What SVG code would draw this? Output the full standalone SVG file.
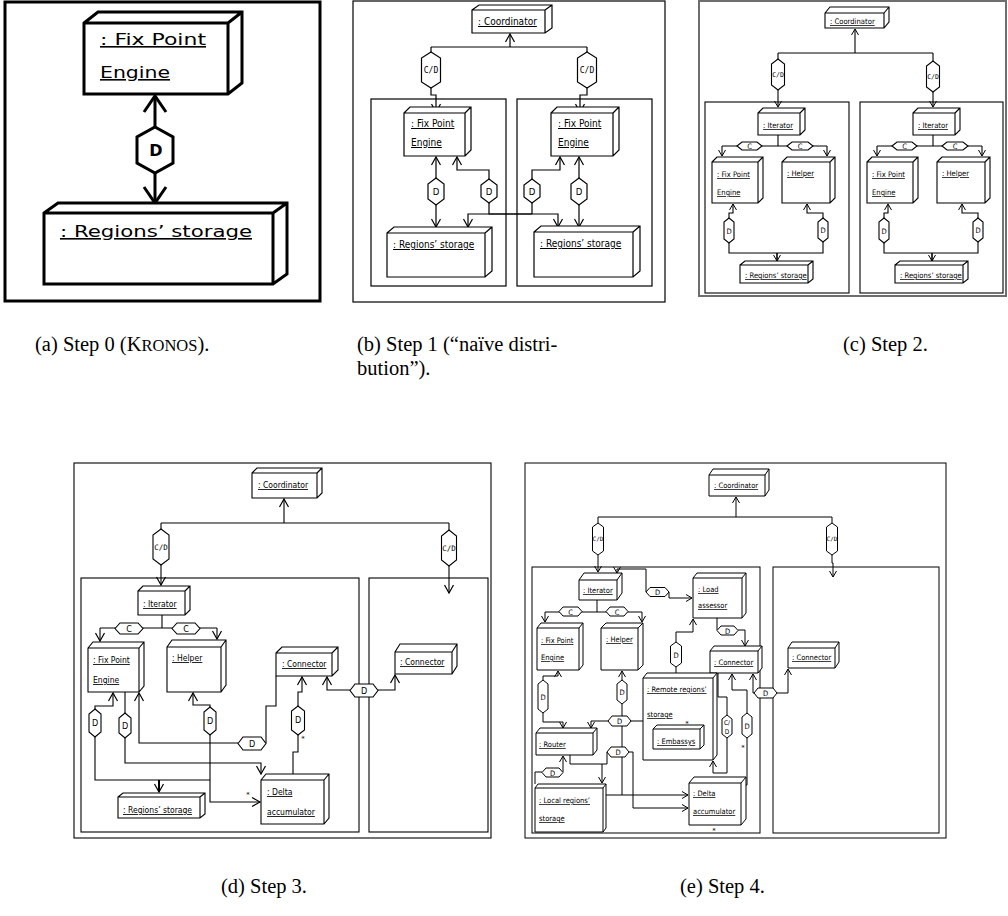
<svg xmlns="http://www.w3.org/2000/svg" width="1008" height="916" viewBox="0 0 1008 916">
<style>
.ln{fill:none;stroke:#000}
.bx{fill:#fff;stroke:#000}
.hx{fill:#fff;stroke:#000}
.fr{fill:none;stroke:#000}
.lb{font-family:"DejaVu Sans Condensed","DejaVu Sans",sans-serif;font-stretch:condensed;text-decoration:underline;fill:#000}
.la{font-family:"DejaVu Sans",sans-serif;font-size:16px;text-decoration:underline;fill:#000}
.hl{font-family:"DejaVu Sans Condensed","DejaVu Sans",sans-serif;font-stretch:condensed;text-anchor:middle;fill:#000}
.mo{font-family:"DejaVu Sans Mono",monospace;text-anchor:middle;fill:#000}
.st{font-family:"DejaVu Sans",sans-serif;font-size:7px;fill:#000;text-anchor:middle}
.cap{font-family:"Liberation Serif",serif;font-size:20.5px;fill:#000}
.pb .ln,.pb .bx,.pb .hx,.pb .fr{stroke-width:1.2}
.pc .ln,.pc .bx,.pc .hx,.pc .fr{stroke-width:1.1}
.pd .ln,.pd .bx,.pd .hx,.pd .fr{stroke-width:1.1}
.pe .ln,.pe .bx,.pe .hx,.pe .fr{stroke-width:1}
.pb .lb{font-size:10px}.pc .lb{font-size:7.6px}.pd .lb{font-size:8.5px}.pe .lb{font-size:7.5px}
.pc .gray{stroke:#6e6e6e;stroke-width:2}
</style>
<defs>
<marker id="mA" markerUnits="userSpaceOnUse" viewBox="-20 -12 22 24" markerWidth="22" markerHeight="24" refX="0" refY="0" orient="auto" overflow="visible"><path d="M-16,-11 L0,0 L-16,11" fill="none" stroke="#000" stroke-width="3"/></marker>
<marker id="mS" markerUnits="userSpaceOnUse" viewBox="-10 -6 12 12" markerWidth="12" markerHeight="12" refX="0" refY="0" orient="auto" overflow="visible"><path d="M-8,-4.5 L0,0 L-8,4.5" fill="none" stroke="#000" stroke-width="1.2"/></marker>
<marker id="mT" markerUnits="userSpaceOnUse" viewBox="-8 -5 10 10" markerWidth="10" markerHeight="10" refX="0" refY="0" orient="auto" overflow="visible"><path d="M-6,-3.5 L0,0 L-6,3.5" fill="none" stroke="#000" stroke-width="1"/></marker>
</defs>
<rect width="1008" height="916" fill="#fff"/>

<!-- ===== Panel (a) ===== -->
<g id="panel-a">
<rect class="fr" x="5" y="2" width="315" height="299" stroke-width="3"/>
<g id="a-connectors">
<path class="ln" stroke-width="3" d="M155,127 V96" marker-end="url(#mA)"/>
<path class="ln" stroke-width="3" d="M155,173 V203" marker-end="url(#mA)"/>
<path class="hx" stroke-width="3" d="M155,127 l18,10 V163 l-18,10 l-18,-10 V137 z"/>
<text x="156" y="156" font-family="DejaVu Sans,sans-serif" font-size="16" font-weight="bold" text-anchor="middle">D</text>
</g>
<g id="a-fixpoint">
<path class="bx" stroke-width="3" d="M84,23 l14,-11 h144 v71 l-14,11 h-144 z h144 v71 m0,-71 l14,-11"/>
<text class="la" x="100" y="45" textLength="106" lengthAdjust="spacingAndGlyphs">: Fix Point</text>
<text class="la" x="100" y="78" textLength="70" lengthAdjust="spacingAndGlyphs">Engine</text>
</g>
<g id="a-regions">
<path class="bx" stroke-width="3" d="M44,213 l14,-10 h229 v71 l-14,10 h-229 z h229 v71 m0,-71 l14,-10"/>
<text class="la" x="60" y="237" textLength="192" lengthAdjust="spacingAndGlyphs">: Regions’ storage</text>
</g>
</g>

<!-- ===== Panel (b) ===== -->
<g id="panel-b" class="pb">
<rect class="fr" x="353" y="1" width="312" height="301"/>
<rect class="fr" x="371" y="99" width="135" height="187"/>
<rect class="fr" x="517" y="99" width="135" height="187"/>
<g id="b-connectors">
<path class="ln" d="M510,47 V34" marker-end="url(#mS)"/>
<path class="ln" d="M431,47 H587"/>
<path class="ln" d="M431,47 V52 M587,47 V52"/>
<path class="ln" d="M431,88 V95 H436 V112" marker-end="url(#mS)"/>
<path class="ln" d="M587,88 V95 H580 V112" marker-end="url(#mS)"/>
<path class="ln" d="M436,178 V157" marker-end="url(#mS)"/>
<path class="ln" d="M436,205 V227" marker-end="url(#mS)"/>
<path class="ln" d="M489,179 V170 H457 V157" marker-end="url(#mS)"/>
<path class="ln" d="M489,203 V214 H558 V227" marker-end="url(#mS)"/>
<path class="ln" d="M489,214 H468 V227" marker-end="url(#mS)"/>
<path class="ln" d="M532,179 V170 H560 V157" marker-end="url(#mS)"/>
<path class="ln" d="M532,203 V214"/>
<path class="ln" stroke-width="3" d="M489,214 H532"/>
<path class="ln" d="M579,178 V157" marker-end="url(#mS)"/>
<path class="ln" d="M579,205 V227" marker-end="url(#mS)"/>
<path class="hx" d="M431,52 l9.5,6 V82 l-9.5,6 l-9.5,-6 V58 z"/>
<text class="mo" x="431" y="73" font-size="8">C/D</text>
<path class="hx" d="M587,52 l9.5,6 V82 l-9.5,6 l-9.5,-6 V58 z"/>
<text class="mo" x="587" y="73" font-size="8">C/D</text>
<path class="hx" d="M436,178 l8,6 V199 l-8,6 l-8,-6 V184 z"/>
<text class="hl" x="436" y="195" font-size="9.5">D</text>
<path class="hx" d="M489,179 l8,6 V197 l-8,6 l-8,-6 V185 z"/>
<text class="hl" x="489" y="195" font-size="9.5">D</text>
<path class="hx" d="M532,179 l8,6 V197 l-8,6 l-8,-6 V185 z"/>
<text class="hl" x="532" y="195" font-size="9.5">D</text>
<path class="hx" d="M579,178 l8,6 V199 l-8,6 l-8,-6 V184 z"/>
<text class="hl" x="579" y="195" font-size="9.5">D</text>
</g>
<g id="b-coordinator">
<path class="bx" d="M472,10 l7,-5 h73 v23 l-7,5 h-73 z h73 v23 m0,-23 l7,-5"/>
<text class="lb" x="478" y="25">: Coordinator</text>
</g>
<g id="b-fix-left">
<path class="bx" d="M404,113 l6,-6 h61 v43 l-6,6 h-61 z h61 v43 m0,-43 l6,-6"/>
<text class="lb" x="411" y="127">: Fix Point</text>
<text class="lb" x="411" y="146">Engine</text>
</g>
<g id="b-fix-right">
<path class="bx" d="M551,113 l6,-6 h62 v43 l-6,6 h-62 z h62 v43 m0,-43 l6,-6"/>
<text class="lb" x="558" y="127">: Fix Point</text>
<text class="lb" x="558" y="146">Engine</text>
</g>
<g id="b-regions-left">
<path class="bx" d="M387,233 l7,-6 h98 v44 l-7,6 h-98 z h98 v44 m0,-44 l7,-6"/>
<text class="lb" x="393" y="248">: Regions’ storage</text>
</g>
<g id="b-regions-right">
<path class="bx" d="M534,232 l7,-6 h99 v45 l-7,6 h-99 z h99 v45 m0,-45 l7,-6"/>
<text class="lb" x="540" y="247">: Regions’ storage</text>
</g>
</g>

<!-- ===== Panel (c) ===== -->
<g id="panel-c" class="pc">
<rect class="fr gray" x="699" y="1" width="307" height="295"/>
<rect class="fr" x="705" y="102" width="144" height="191"/>
<rect class="fr" x="860" y="102" width="143" height="191"/>
<g id="c-connectors-top">
<path class="ln" d="M855,53 V29" marker-end="url(#mT)"/>
<path class="ln" d="M778,53 H933 M778,53 V59 M933,53 V61"/>
<path class="ln" d="M778,90 V107" marker-end="url(#mT)"/>
<path class="ln" d="M933,92 V107" marker-end="url(#mT)"/>
<path class="hx" d="M778,59 l6.5,5 V85 l-6.5,5 l-6.5,-5 V64 z"/>
<text class="mo" x="778" y="77" font-size="6.5">C/D</text>
<path class="hx" d="M933,61 l6.5,5 V87 l-6.5,5 l-6.5,-5 V66 z"/>
<text class="mo" x="933" y="79" font-size="6.5">C/D</text>
</g>
<g id="c-left">
<g id="c-connectors-left">
<path class="ln" d="M778,135 V146 M722,146 H827"/>
<path class="ln" d="M722,146 V156" marker-end="url(#mT)"/>
<path class="ln" d="M827,146 V156" marker-end="url(#mT)"/>
<path class="ln" d="M729,218 V213 H733 V204" marker-end="url(#mT)"/>
<path class="ln" d="M729,243 V253 H823 V242"/>
<path class="ln" d="M823,218 V213 H807 V204" marker-end="url(#mT)"/>
<path class="ln" style="stroke-width:1.6" d="M777,253 V261" marker-end="url(#mT)"/>
<path class="hx" d="M737,146 l5,-4 H757 l5,4 l-5,4 H742 z"/>
<text class="hl" x="749.5" y="149" font-size="7.5">C</text>
<path class="hx" d="M787,146 l5,-4 H808 l5,4 l-5,4 H792 z"/>
<text class="hl" x="800" y="149" font-size="7.5">C</text>
<path class="hx" d="M729,218 l5,4 V239 l-5,4 l-5,-4 V222 z"/>
<text class="hl" x="729" y="233.5" font-size="7.5">D</text>
<path class="hx" d="M823,218 l5,4 V238 l-5,4 l-5,-4 V222 z"/>
<text class="hl" x="823" y="233" font-size="7.5">D</text>
</g>
<g id="c-iterator-left">
<path class="bx" d="M758,113 l5,-5 h42 v22 l-5,5 h-42 z h42 v22 m0,-22 l5,-5"/>
<text class="lb" x="763" y="128">: Iterator</text>
</g>
<g id="c-fix-left">
<path class="bx" d="M712,162 l5,-5 h46 v41 l-5,5 h-46 z h46 v41 m0,-41 l5,-5"/>
<text class="lb" x="717" y="177">: Fix Point</text>
<text class="lb" x="717" y="195">Engine</text>
</g>
<g id="c-helper-left">
<path class="bx" d="M782,162 l5,-5 h48 v41 l-5,5 h-48 z h48 v41 m0,-41 l5,-5"/>
<text class="lb" x="787" y="176">: Helper</text>
</g>
<g id="c-regions-left">
<path class="bx" d="M740,265 l5,-4 h68 v18 l-5,4 h-68 z h68 v18 m0,-18 l5,-4"/>
<text class="lb" x="745" y="278">: Regions’ storage</text>
</g>
</g>
<g id="c-right" transform="translate(155,0)">
<g id="c-connectors-right">
<path class="ln" d="M778,135 V146 M722,146 H827"/>
<path class="ln" d="M722,146 V156" marker-end="url(#mT)"/>
<path class="ln" d="M827,146 V156" marker-end="url(#mT)"/>
<path class="ln" d="M729,218 V213 H733 V204" marker-end="url(#mT)"/>
<path class="ln" d="M729,243 V253 H823 V242"/>
<path class="ln" d="M823,218 V213 H807 V204" marker-end="url(#mT)"/>
<path class="ln" style="stroke-width:1.6" d="M777,253 V261" marker-end="url(#mT)"/>
<path class="hx" d="M737,146 l5,-4 H757 l5,4 l-5,4 H742 z"/>
<text class="hl" x="749.5" y="149" font-size="7.5">C</text>
<path class="hx" d="M787,146 l5,-4 H808 l5,4 l-5,4 H792 z"/>
<text class="hl" x="800" y="149" font-size="7.5">C</text>
<path class="hx" d="M729,218 l5,4 V239 l-5,4 l-5,-4 V222 z"/>
<text class="hl" x="729" y="233.5" font-size="7.5">D</text>
<path class="hx" d="M823,218 l5,4 V238 l-5,4 l-5,-4 V222 z"/>
<text class="hl" x="823" y="233" font-size="7.5">D</text>
</g>
<g id="c-iterator-right">
<path class="bx" d="M758,113 l5,-5 h42 v22 l-5,5 h-42 z h42 v22 m0,-22 l5,-5"/>
<text class="lb" x="763" y="128">: Iterator</text>
</g>
<g id="c-fix-right">
<path class="bx" d="M712,162 l5,-5 h46 v41 l-5,5 h-46 z h46 v41 m0,-41 l5,-5"/>
<text class="lb" x="717" y="177">: Fix Point</text>
<text class="lb" x="717" y="195">Engine</text>
</g>
<g id="c-helper-right">
<path class="bx" d="M782,162 l5,-5 h48 v41 l-5,5 h-48 z h48 v41 m0,-41 l5,-5"/>
<text class="lb" x="787" y="176">: Helper</text>
</g>
<g id="c-regions-right">
<path class="bx" d="M740,265 l5,-4 h68 v18 l-5,4 h-68 z h68 v18 m0,-18 l5,-4"/>
<text class="lb" x="745" y="278">: Regions’ storage</text>
</g>
</g>
<g id="c-coordinator">
<path class="bx" d="M825,13 l5,-6 h59 v15 l-5,6 h-59 z h59 v15 m0,-15 l5,-6"/>
<text class="lb" x="830" y="24">: Coordinator</text>
</g>
</g>

<!-- ===== Panel (d) ===== -->
<g id="panel-d" class="pd">
<rect class="fr" x="74" y="463" width="417" height="375"/>
<rect class="fr" x="81" y="578" width="278" height="254"/>
<rect class="fr" x="369" y="578" width="119" height="254"/>
<g id="d-connectors">
<path class="ln" d="M284,523 V499" marker-end="url(#mS)"/>
<path class="ln" d="M161,523 H449 M161,523 V529 M449,523 V530"/>
<path class="ln" d="M161,565 V585" marker-end="url(#mS)"/>
<path class="ln" d="M449,566 V593" marker-end="url(#mS)"/>
<path class="ln" d="M162,615 V628 M100,628 H217"/>
<path class="ln" d="M100,628 V641" marker-end="url(#mS)"/>
<path class="ln" d="M217,628 V639" marker-end="url(#mS)"/>
<path class="ln" d="M95,709 V706 H113 V693" marker-end="url(#mS)"/>
<path class="ln" d="M95,737 V780 H210"/>
<path class="ln" style="stroke-width:2" d="M159,780 V792" marker-end="url(#mS)"/>
<path class="ln" d="M125,692 V713 M125,738 V763 H261 V774" marker-end="url(#mS)"/>
<path class="ln" d="M238,743 H139 V693" marker-end="url(#mS)"/>
<path class="ln" d="M266,743 V706 H276 V676"/>
<path class="ln" d="M210,707 V705 H193 V693" marker-end="url(#mS)"/>
<path class="ln" d="M210,735 V802 H260" marker-end="url(#mS)"/>
<path class="ln" d="M293,774 V752 H298 V735"/>
<path class="ln" d="M298,706 V692 H302 V677" marker-end="url(#mS)"/>
<path class="ln" d="M350,690 H327 V677" marker-end="url(#mS)"/>
<path class="ln" d="M378,690 H395 V675" marker-end="url(#mS)"/>
<path class="hx" d="M161,529 l8,6 V559 l-8,6 l-8,-6 V535 z"/>
<text class="mo" x="161" y="550" font-size="7.5">C/D</text>
<path class="hx" d="M449,530 l7.5,6 V560 l-7.5,6 l-7.5,-6 V536 z"/>
<text class="mo" x="449" y="551" font-size="7.5">C/D</text>
<path class="hx" d="M115,628.5 l5,-5.5 H138 l5,5.5 l-5,5.5 H120 z"/>
<text class="hl" x="129" y="632" font-size="9">C</text>
<path class="hx" d="M172,628.5 l5,-5.5 H195 l5,5.5 l-5,5.5 H177 z"/>
<text class="hl" x="186" y="632" font-size="9">C</text>
<path class="hx" d="M95,709 l6,5 V732 l-6,5 l-6,-5 V714 z"/>
<text class="hl" x="95" y="726" font-size="9">D</text>
<path class="hx" d="M125,713 l6,5 V733 l-6,5 l-6,-5 V718 z"/>
<text class="hl" x="125" y="729" font-size="9">D</text>
<path class="hx" d="M238,743.5 l5,-6.5 H261 l5,6.5 l-5,6.5 H243 z"/>
<text class="hl" x="252" y="747" font-size="9">D</text>
<path class="hx" d="M210,707 l6,5 V730 l-6,5 l-6,-5 V712 z"/>
<text class="hl" x="210" y="724" font-size="9">D</text>
<path class="hx" d="M298,706 l6.5,5 V730 l-6.5,5 l-6.5,-5 V711 z"/>
<text class="hl" x="298" y="723" font-size="9">D</text>
<path class="hx" d="M350,690.5 l5,-6.5 H373 l5,6.5 l-5,6.5 H355 z"/>
<text class="hl" x="364" y="694" font-size="9">D</text>
<text class="st" x="248" y="797">*</text>
<text class="st" x="303" y="741">*</text>
</g>
<g id="d-coordinator">
<path class="bx" d="M252,473 l5,-5 h65 v25 l-5,5 h-65 z h65 v25 m0,-25 l5,-5"/>
<text class="lb" x="258" y="488">: Coordinator</text>
</g>
<g id="d-iterator">
<path class="bx" d="M138,591 l5,-5 h47 v24 l-5,5 h-47 z h47 v24 m0,-24 l5,-5"/>
<text class="lb" x="143" y="607">: Iterator</text>
</g>
<g id="d-fix">
<path class="bx" d="M88,648 l5,-6 h51 v44 l-5,6 h-51 z h51 v44 m0,-44 l5,-6"/>
<text class="lb" x="93" y="663">: Fix Point</text>
<text class="lb" x="93" y="683">Engine</text>
</g>
<g id="d-helper">
<path class="bx" d="M167,647 l5,-7 h54 v45 l-5,7 h-54 z h54 v45 m0,-45 l5,-7"/>
<text class="lb" x="172" y="661">: Helper</text>
</g>
<g id="d-connector-left">
<path class="bx" d="M276,653 l6,-6 h56 v23 l-6,6 h-56 z h56 v23 m0,-23 l6,-6"/>
<text class="lb" x="282" y="667">: Connector</text>
</g>
<g id="d-connector-right">
<path class="bx" d="M395,652 l5,-8 h57 v22 l-5,8 h-57 z h57 v22 m0,-22 l5,-8"/>
<text class="lb" x="400" y="665">: Connector</text>
</g>
<g id="d-regions">
<path class="bx" d="M118,797 l5,-4 h82 v21 l-5,4 h-82 z h82 v21 m0,-21 l5,-4"/>
<text class="lb" x="123" y="813">: Regions’ storage</text>
</g>
<g id="d-delta">
<path class="bx" d="M261,780 l5,-6 h63 v44 l-5,6 h-63 z h63 v44 m0,-44 l5,-6"/>
<text class="lb" x="267" y="795">: Delta</text>
<text class="lb" x="267" y="815">accumulator</text>
</g>
</g>

<!-- ===== Panel (e) ===== -->
<g id="panel-e" class="pe">
<rect class="fr" x="525" y="463" width="421" height="375"/>
<rect class="fr" x="532" y="567" width="228" height="266"/>
<rect class="fr" x="773" y="567" width="166" height="266"/>
<g id="e-connectors">
<path class="ln" d="M736,517 V497" marker-end="url(#mT)"/>
<path class="ln" d="M598,517 H832 M598,517 V523 M832,517 V523"/>
<path class="ln" d="M598,555 V572" marker-end="url(#mT)"/>
<path class="ln" d="M832,555 V563 H833 V577" marker-end="url(#mT)"/>
<path class="ln" d="M597,600 V612 M545,612 H642"/>
<path class="ln" d="M545,612 V622" marker-end="url(#mT)"/>
<path class="ln" d="M642,612 V622" marker-end="url(#mT)"/>
<path class="ln" d="M646,592 V569 H617 V573" marker-end="url(#mT)"/>
<path class="ln" d="M669,592 V598 H692" marker-end="url(#mT)"/>
<path class="ln" d="M717,618 V630"/>
<path class="ln" d="M738,630 H745 V646" marker-end="url(#mT)"/>
<path class="ln" d="M676,673 V667"/>
<path class="ln" d="M676,642 V632 H693 V619" marker-end="url(#mT)"/>
<path class="ln" d="M543,680 V676 H558 V671" marker-end="url(#mT)"/>
<path class="ln" d="M543,713 V722 H563 V728" marker-end="url(#mT)"/>
<path class="ln" d="M622,680 V671" marker-end="url(#mT)"/>
<path class="ln" d="M622,704 V716"/>
<path class="ln" d="M608,721 H591 V728" marker-end="url(#mT)"/>
<path class="ln" d="M631,721 H643"/>
<path class="ln" d="M622,726 V795 H688" marker-end="url(#mT)"/>
<path class="ln" d="M622,795 H606"/>
<path class="ln" d="M570,755 V764 H607 V752"/>
<path class="ln" d="M629,752 H633 V808 H688" marker-end="url(#mT)"/>
<path class="ln" d="M602,764 V783" marker-end="url(#mT)"/>
<path class="ln" d="M535,784 V772 H542"/>
<path class="ln" d="M563,772 V756" marker-end="url(#mT)"/>
<path class="ln" d="M718,673 V697 H727 V715"/>
<path class="ln" d="M727,738 V773 H713 V761" marker-end="url(#mT)"/>
<path class="ln" d="M747,713 V690 H732 V674" marker-end="url(#mT)"/>
<path class="ln" d="M747,738 V785 H717"/>
<path class="ln" d="M754,693 H753 V674" marker-end="url(#mT)"/>
<path class="ln" d="M777,693 H788 V669" marker-end="url(#mT)"/>
<path class="hx" d="M598,523 l5.5,4 V551 l-5.5,4 l-5.5,-4 V527 z"/>
<text class="mo" x="598" y="541" font-size="6">C/D</text>
<path class="hx" d="M832,523 l5.5,4 V551 l-5.5,4 l-5.5,-4 V527 z"/>
<text class="mo" x="832" y="541" font-size="6">C/D</text>
<path class="hx" d="M559,611.5 l4,-4.5 H578 l4,4.5 l-4,4.5 H563 z"/>
<text class="hl" x="570.5" y="614.5" font-size="7.5">C</text>
<path class="hx" d="M606,611.5 l4,-4.5 H624 l4,4.5 l-4,4.5 H610 z"/>
<text class="hl" x="617" y="614.5" font-size="7.5">C</text>
<path class="hx" d="M646,592 l4,-4.5 H665 l4,4.5 l-4,4.5 H650 z"/>
<text class="hl" x="657.5" y="595" font-size="7.5">D</text>
<path class="hx" d="M717,630.5 l4,-4.5 H734 l4,4.5 l-4,4.5 H721 z"/>
<text class="hl" x="727.5" y="633.5" font-size="7.5">D</text>
<path class="hx" d="M676,642 l5.5,4 V663 l-5.5,4 l-5.5,-4 V646 z"/>
<text class="hl" x="676" y="657.5" font-size="7.5">D</text>
<path class="hx" d="M543,680 l5,4 V709 l-5,4 l-5,-4 V684 z"/>
<text class="hl" x="543" y="699.5" font-size="7.5">D</text>
<path class="hx" d="M622,680 l5,4 V700 l-5,4 l-5,-4 V684 z"/>
<text class="hl" x="622" y="694.5" font-size="7.5">D</text>
<path class="hx" d="M608,721 l4,-5 H627 l4,5 l-4,5 H612 z"/>
<text class="hl" x="619.5" y="724" font-size="7.5">D</text>
<path class="hx" d="M607,752 l4,-5 H625 l4,5 l-4,5 H611 z"/>
<text class="hl" x="618" y="755" font-size="7.5">D</text>
<path class="hx" d="M542,772.5 l4,-4.5 H559 l4,4.5 l-4,4.5 H546 z"/>
<text class="hl" x="552.5" y="775.5" font-size="7.5">D</text>
<path class="hx" d="M727,715 l5,4 V734 l-5,4 l-5,-4 V719 z"/>
<text class="hl" x="727" y="725" font-size="6.5">C/</text>
<text class="hl" x="727" y="734" font-size="6.5">D</text>
<path class="hx" d="M747,713 l5,4 V734 l-5,4 l-5,-4 V717 z"/>
<text class="hl" x="747" y="728.5" font-size="7.5">D</text>
<path class="hx" d="M754,693 l4,-5 H773 l4,5 l-4,5 H758 z"/>
<text class="hl" x="765.5" y="696" font-size="7.5">D</text>
<text class="st" x="743" y="750" font-size="6">*</text>
</g>
<g id="e-coordinator">
<path class="bx" d="M709,475 l4,-6 h56 v21 l-4,6 h-56 z h56 v21 m0,-21 l4,-6"/>
<text class="lb" x="714" y="488">: Coordinator</text>
</g>
<g id="e-iterator">
<path class="bx" d="M579,580 l5,-7 h38 v20 l-5,7 h-38 z h38 v20 m0,-20 l5,-7"/>
<text class="lb" x="583" y="593">: Iterator</text>
</g>
<g id="e-fix">
<path class="bx" d="M537,628 l4,-5 h42 v42 l-4,5 h-42 z h42 v42 m0,-42 l4,-5"/>
<text class="lb" x="541" y="643">: Fix Point</text>
<text class="lb" x="541" y="660">Engine</text>
</g>
<g id="e-helper">
<path class="bx" d="M601,628 l5,-5 h37 v42 l-5,5 h-37 z h37 v42 m0,-42 l5,-5"/>
<text class="lb" x="606" y="642">: Helper</text>
</g>
<g id="e-load">
<path class="bx" d="M693,578 l4,-5 h49 v40 l-4,5 h-49 z h49 v40 m0,-40 l4,-5"/>
<text class="lb" x="698" y="592">: Load</text>
<text class="lb" x="698" y="608">assessor</text>
</g>
<g id="e-connector-left">
<path class="bx" d="M710,651 l4,-5 h48 v22 l-4,5 h-48 z h48 v22 m0,-22 l4,-5"/>
<text class="lb" x="714" y="665">: Connector</text>
</g>
<g id="e-connector-right">
<path class="bx" d="M788,648 l4,-6 h47 v20 l-4,6 h-47 z h47 v20 m0,-20 l4,-6"/>
<text class="lb" x="792" y="660">: Connector</text>
</g>
<g id="e-remote">
<path class="bx" d="M643,678 l4,-5 h70 v82 l-4,5 h-70 z h70 v82 m0,-82 l4,-5"/>
<text class="lb" x="647" y="692">: Remote regions’</text>
<text class="lb" x="647" y="717">storage</text>
<text class="st" x="687" y="726" font-size="6">*</text>
</g>
<g id="e-embassys">
<path class="bx" d="M653,729 l4,-4 h47 v20 l-4,4 h-47 z h47 v20 m0,-20 l4,-4"/>
<text class="lb" x="657" y="744">: Embassys</text>
</g>
<g id="e-router">
<path class="bx" d="M536,733 l4,-5 h57 v22 l-4,5 h-57 z h57 v22 m0,-22 l4,-5"/>
<text class="lb" x="539" y="747">: Router</text>
</g>
<g id="e-local">
<path class="bx" d="M535,788 l3,-4 h68 v44 l-3,4 h-68 z h68 v44 m0,-44 l3,-4"/>
<text class="lb" x="539" y="803">: Local regions’</text>
<text class="lb" x="539" y="821">storage</text>
</g>
<g id="e-delta">
<path class="bx" d="M689,783 l5,-6 h52 v42 l-5,6 h-52 z h52 v42 m0,-42 l5,-6"/>
<text class="lb" x="693" y="796">: Delta</text>
<text class="lb" x="693" y="814">accumulator</text>
<text class="st" x="714" y="833" font-size="6">*</text>
</g>
</g>

<!-- ===== Captions ===== -->
<g id="captions">
<text class="cap" x="35" y="351">(a) Step 0 (K<tspan font-size="16.5">RONOS</tspan>).</text>
<text class="cap" x="357" y="351">(b) Step 1 (“naïve distri-</text>
<text class="cap" x="357" y="375">bution”).</text>
<text class="cap" x="843" y="351">(c) Step 2.</text>
<text class="cap" x="221" y="893">(d) Step 3.</text>
<text class="cap" x="680" y="893">(e) Step 4.</text>
</g>
</svg>
